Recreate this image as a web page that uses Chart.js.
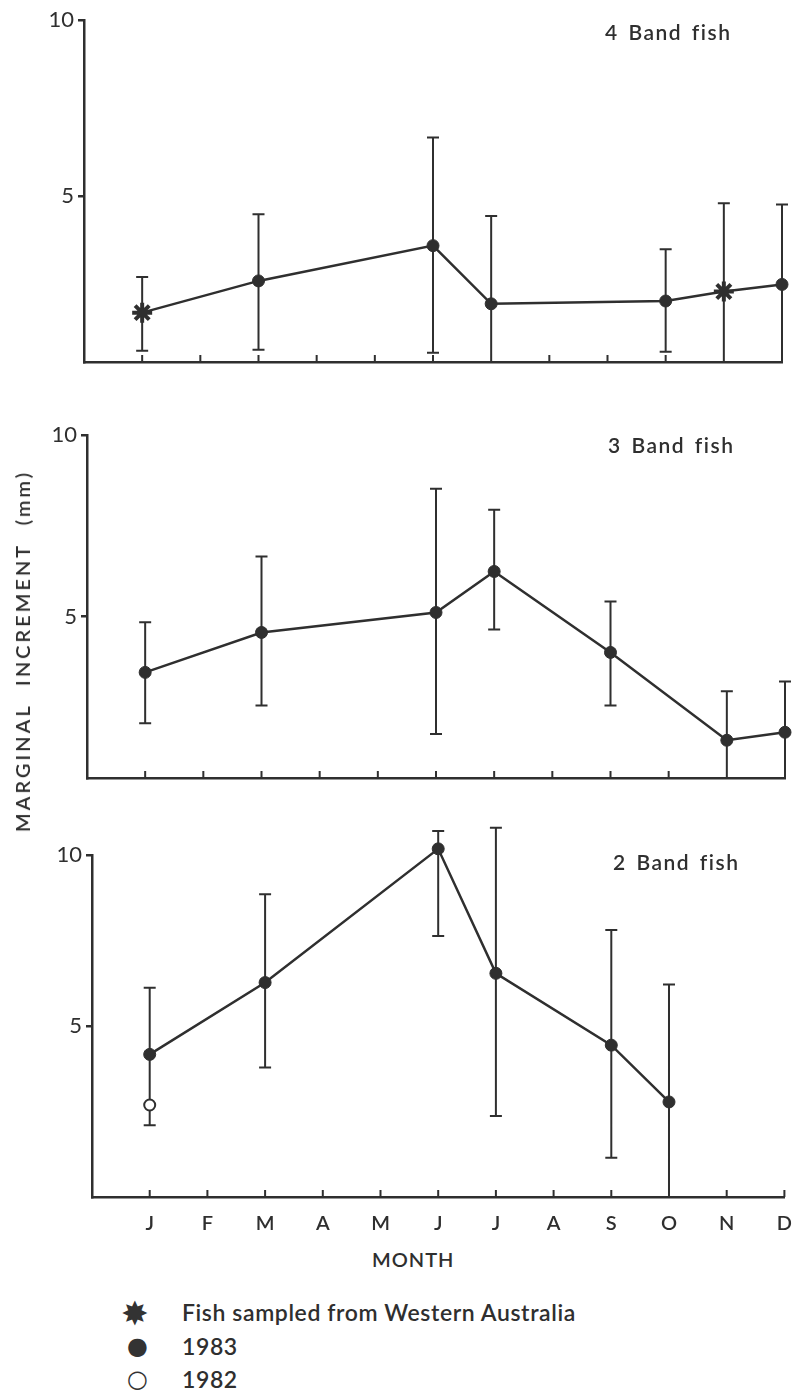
<!DOCTYPE html>
<html>
<head>
<meta charset="utf-8">
<script src="https://cdn.jsdelivr.net/npm/chart.js@4.4.1/dist/chart.umd.min.js"></script>
<style>
  body { margin: 0; background: #fff; width: 799px; height: 1398px; position: relative; overflow: hidden;
         font-family: Lato, 'Liberation Sans', sans-serif; color: #2f2f2f; }
  .panel { position: absolute; left: 0; }
  .lbl { position: absolute; white-space: nowrap; line-height: 1; }
  .title { font-size: 21px; font-weight: 600; letter-spacing: 1.5px; word-spacing: 3px; }
  .leg { font-size: 23px; font-weight: 600; letter-spacing: 0.6px; }
</style>
</head>
<body>
<div class="panel" style="top:0"><canvas id="band4" width="799" height="380"></canvas></div>
<div class="panel" style="top:400px"><canvas id="band3" width="799" height="400"></canvas></div>
<div class="panel" style="top:820px"><canvas id="band2" width="799" height="420"></canvas></div>

<div class="lbl title" style="left:605px; top:21px">4 Band fish</div>
<div class="lbl title" style="left:608px; top:434px">3 Band fish</div>
<div class="lbl title" style="left:613px; top:851px">2 Band fish</div>

<div class="lbl" style="left:22px; top:651px; font-size:20px; font-weight:600; letter-spacing:3px; word-spacing:10px; transform:translate(-50%,-50%) rotate(-90deg)">MARGINAL INCREMENT (mm)</div>
<div class="lbl" style="left:372px; top:1249px; font-size:20px; font-weight:600; letter-spacing:1px">MONTH</div>

<div class="lbl" style="left:121px; top:1297px; font-size:33px; font-family:'DejaVu Sans'; color:#333">✸</div>
<div class="lbl leg" style="left:182px; top:1301px">Fish sampled from Western Australia</div>
<div class="lbl" style="left:127px; top:1334px; font-size:24px; font-family:'DejaVu Sans'; color:#333">●</div>
<div class="lbl leg" style="left:182px; top:1335px">1983</div>
<div class="lbl" style="left:127px; top:1367px; font-size:24px; font-family:'DejaVu Sans'; color:#333">○</div>
<div class="lbl leg" style="left:182px; top:1368px">1982</div>

<script>
const monthLabels = ['J', 'F', 'M', 'A', 'M', 'J', 'J', 'A', 'S', 'O', 'N', 'D'];
const yTicks = [5, 10];

// 4 band fish (month index 0 = Jan)
const band4Months = [0, 2, 5, 6, 9, 10, 11];
const band4Mean = [1.7, 2.6, 3.6, 1.95, 2.03, 2.3, 2.5];
const band4Low = [0.62, 0.65, 0.56, 0.3, 0.59, 0.3, 0.3];
const band4High = [2.71, 4.49, 6.67, 4.44, 3.5, 4.8, 4.77];
const band4WAMonths = [0, 10];

// 3 band fish
const band3Months = [0, 2, 5, 6, 8, 10, 11];
const band3Mean = [3.46, 4.56, 5.11, 6.24, 4.01, 1.59, 1.81];
const band3Low = [2.06, 2.55, 1.76, 4.64, 2.55, 0.55, 0.55];
const band3High = [4.84, 6.65, 8.52, 7.94, 5.41, 2.94, 3.21];

// 2 band fish
const band2Months = [0, 2, 5, 6, 8, 9];
const band2Mean = [4.17, 6.27, 10.18, 6.54, 4.44, 2.78];
const band2Low = [2.1, 3.79, 7.63, 2.37, 1.15, 0];
const band2High = [6.12, 8.85, 10.7, 10.8, 7.81, 6.21];
const band2Months1982 = [0];
const band2Mean1982 = [2.69];

const ink = '#2f2f2f';

// error bars + small inward month ticks
const errorBars = {
  id: 'errorBars',
  beforeDatasetsDraw(chart, args, opts) {
    const { ctx, scales: { x, y } } = chart;
    ctx.save();
    ctx.strokeStyle = ink;
    ctx.lineWidth = 2;
    ctx.beginPath();
    opts.months.forEach((m, i) => {
      const px = x.getPixelForValue(m);
      const top = y.getPixelForValue(opts.high[i]);
      const bot = y.getPixelForValue(Math.max(opts.low[i], y.min));
      ctx.moveTo(px, top); ctx.lineTo(px, bot);
      ctx.moveTo(px - 6, top); ctx.lineTo(px + 6, top);
      if (opts.low[i] > y.min) { ctx.moveTo(px - 6, bot); ctx.lineTo(px + 6, bot); }
    });
    const base = y.getPixelForValue(y.min);
    for (let m = 0; m < monthLabels.length; m++) {
      const px = x.getPixelForValue(m);
      ctx.moveTo(px, base); ctx.lineTo(px, base - 7);
    }
    ctx.stroke();
    ctx.restore();
  }
};

function makePanel(id, d) {
  const isWA = m => (d.wa || []).includes(m);
  const datasets = [{
    data: d.months.map((m, i) => ({ x: m, y: d.mean[i] })),
    borderColor: ink,
    backgroundColor: ink,
    borderWidth: 2.5,
    clip: false,
    pointStyle: d.months.map(m => isWA(m) ? 'star' : 'circle'),
    pointRadius: d.months.map(m => isWA(m) ? 10 : 6),
    pointBorderWidth: d.months.map(m => isWA(m) ? 4 : 1),
    pointBackgroundColor: ink,
    pointBorderColor: ink
  }];
  if (d.extra) {
    datasets.push({
      data: d.extra.months.map((m, i) => ({ x: m, y: d.extra.mean[i] })),
      showLine: false,
      clip: false,
      pointRadius: 5.5,
      pointBorderWidth: 2,
      pointBorderColor: ink,
      pointBackgroundColor: '#fff'
    });
  }
  return new Chart(document.getElementById(id), {
    type: 'line',
    data: { datasets },
    plugins: [errorBars],
    options: {
      responsive: false,
      animation: false,
      layout: { padding: d.pad },
      plugins: {
        legend: { display: false },
        tooltip: { enabled: false },
        errorBars: { months: d.months, low: d.low, high: d.high }
      },
      scales: {
        x: {
          type: 'linear', min: -1, max: 11,
          afterFit: s => { s.height = d.xh; },
          grid: { display: false },
          border: { color: ink, width: 2.5 },
          ticks: {
            display: d.showMonths, stepSize: 1, autoSkip: false, maxRotation: 0,
            callback: v => monthLabels[v] || '',
            font: { family: 'Lato', size: 20, weight: '600' }, color: ink, padding: 7
          }
        },
        y: {
          min: d.ymin, max: 10,
          afterFit: s => { s.width = d.yw; },
          afterBuildTicks: s => { s.ticks = yTicks.map(v => ({ value: v })); },
          grid: { drawOnChartArea: false, tickLength: 6, color: ink, lineWidth: 2.5 },
          border: { color: ink, width: 2.5 },
          ticks: { font: { family: 'Lato', size: 22 }, color: ink, padding: 4 }
        }
      }
    }
  });
}

makePanel('band4', {
  months: band4Months, mean: band4Mean, low: band4Low, high: band4High, wa: band4WAMonths,
  ymin: 0.3, yw: 84, xh: 0, showMonths: false,
  pad: { top: 20, bottom: 18, left: 0, right: 17 }
});
makePanel('band3', {
  months: band3Months, mean: band3Mean, low: band3Low, high: band3High,
  ymin: 0.55, yw: 87, xh: 0, showMonths: false,
  pad: { top: 35, bottom: 22, left: 0, right: 14 }
});
makePanel('band2', {
  months: band2Months, mean: band2Mean, low: band2Low, high: band2High,
  extra: { months: band2Months1982, mean: band2Mean1982 },
  ymin: 0, yw: 92, xh: 43, showMonths: true,
  pad: { top: 35, bottom: 0, left: 0, right: 11 }
});
</script>
</body>
</html>
